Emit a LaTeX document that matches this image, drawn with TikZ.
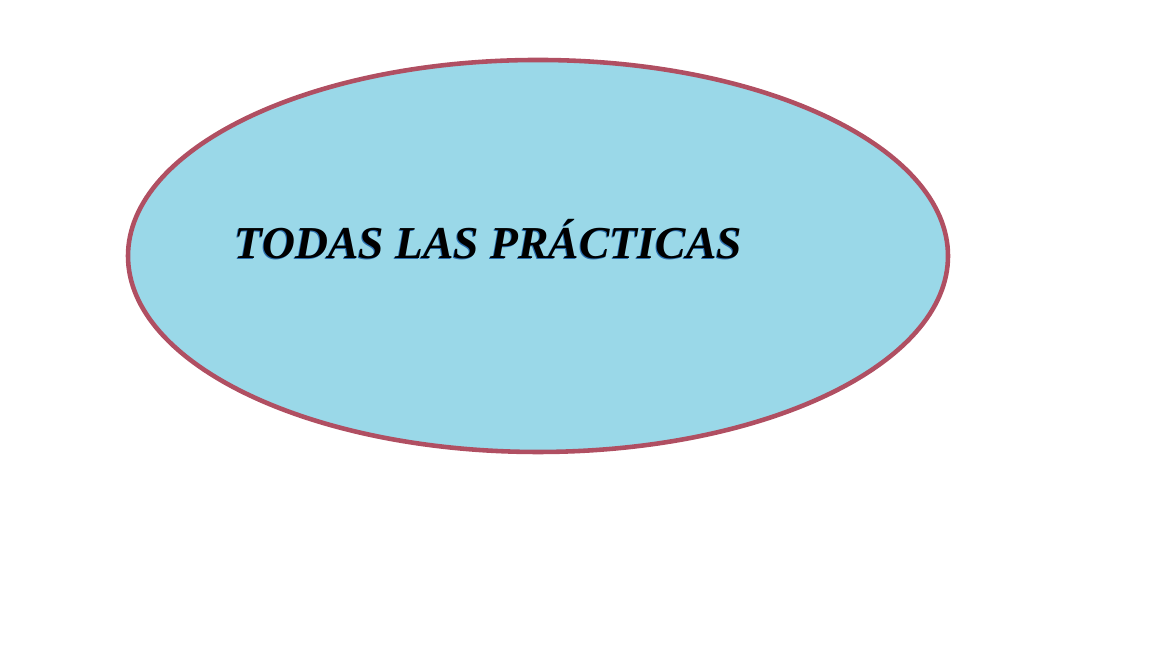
\documentclass[tikz,border=0pt]{standalone}
\usepackage{fontspec}
\setmainfont{Liberation Serif}
\usetikzlibrary{shapes.geometric}
\definecolor{fillblue}{HTML}{9AD8E8}
\definecolor{rimred}{HTML}{B04F62}
\definecolor{shadowblue}{HTML}{2A6FB0}
\tikzset{
  bubble/.style={ellipse, draw=rimred, line width=1.3pt, fill=fillblue, minimum width=8.2cm, minimum height=3.92cm, inner sep=0pt},
  titletext/.style={inner sep=0pt, font=\bfseries\itshape}
}
\newcommand{\titlestr}{\resizebox{5.07cm}{!}{TODAS LAS PRÁCTICAS}}
\begin{document}
\begin{tikzpicture}
\useasboundingbox (0,0) rectangle (11.52,6.48);
\node[bubble] (oval) at (5.38,3.92) {};
\node[titletext, text=shadowblue] (shadow) at (4.875,4.08) {\titlestr};
\node[titletext, text=black] (title) at (4.885,4.09) {\titlestr};
\end{tikzpicture}
\end{document}
